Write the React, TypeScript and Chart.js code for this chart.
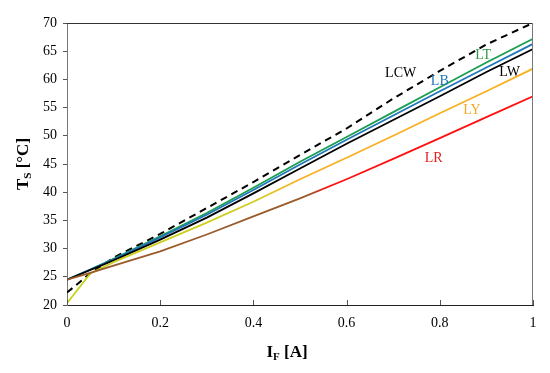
import React, { useEffect, useRef } from "react";
import { Chart, registerables } from "chart.js";

Chart.register(...registerables);

// Forward current I_F [A]
const currentA = [0, 0.05, 0.1, 0.2, 0.3, 0.4, 0.5, 0.6, 0.7, 0.8, 0.9, 1.0];
// Solder point temperature T_S [°C]
const tsLCW = [22.2, 25.6, 28.4, 32.6, 37.2, 41.8, 46.6, 51.3, 56.6, 61.5, 66.2, 70.0];
const tsLT = [24.5, 26.3, 28.2, 32.2, 36.3, 40.8, 45.4, 49.8, 54.2, 58.6, 63.0, 67.2];
const tsLB = [24.5, 26.3, 28.1, 32.0, 36.0, 40.4, 44.9, 49.3, 53.6, 57.9, 62.1, 66.3];
const tsLW = [24.5, 26.2, 27.9, 31.6, 35.5, 39.8, 44.2, 48.6, 52.8, 57.0, 61.3, 65.4];
const tsLY = [20.3, 25.6, 27.6, 31.1, 34.6, 38.3, 42.3, 46.1, 50.0, 54.0, 57.9, 61.9];
const tsLR = [24.5, 25.7, 27.0, 29.5, 32.5, 35.7, 38.9, 42.3, 45.9, 49.6, 53.3, 57.0];

const yTicks = [20, 25, 30, 35, 40, 45, 50, 55, 60, 65, 70];
const xTicks = [0, 0.2, 0.4, 0.6, 0.8, 1];

const curveLabels = [
  { text: "LCW", x: 0.716, y: 61.1, color: "#000000" },
  { text: "LB", x: 0.8, y: 59.6, color: "#1f77b8" },
  { text: "LT", x: 0.893, y: 64.3, color: "#2e9a48" },
  { text: "LW", x: 0.95, y: 61.3, color: "#000000" },
  { text: "LY", x: 0.869, y: 54.5, color: "#f0a828" },
  { text: "LR", x: 0.787, y: 46.0, color: "#e52020" },
];

const SERIF = "'Liberation Serif', 'Times New Roman', serif";

const pts = (ys: number[]) => currentA.map((x, i) => ({ x, y: ys[i] }));

function gradientColor(chart: any, stops: [number, string][], fallback: string) {
  const area = chart.chartArea;
  if (!area) return fallback;
  const xs = chart.scales.x;
  const g = chart.ctx.createLinearGradient(xs.getPixelForValue(0), 0, xs.getPixelForValue(1), 0);
  stops.forEach(([o, c]) => g.addColorStop(o, c));
  return g;
}

const decorPlugin = {
  id: "decor",
  afterDatasetsDraw(chart: any) {
    const { ctx, chartArea: a, scales } = chart;
    ctx.save();
    // frame
    ctx.lineWidth = 1;
    ctx.strokeStyle = "#333";
    ctx.beginPath();
    ctx.moveTo(a.left, a.top + 0.5);
    ctx.lineTo(a.right, a.top + 0.5);
    ctx.stroke();
    ctx.strokeStyle = "#777";
    ctx.beginPath();
    ctx.moveTo(a.right - 0.5, a.top);
    ctx.lineTo(a.right - 0.5, a.bottom);
    ctx.stroke();
    // inside x ticks
    ctx.strokeStyle = "#555";
    xTicks.forEach((v) => {
      const px = Math.round(scales.x.getPixelForValue(v)) + 0.5;
      ctx.beginPath();
      ctx.moveTo(px, a.bottom);
      ctx.lineTo(px, a.bottom - 5);
      ctx.stroke();
    });
    // curve labels
    ctx.font = `14px ${SERIF}`;
    ctx.textAlign = "center";
    ctx.textBaseline = "middle";
    curveLabels.forEach((l) => {
      ctx.fillStyle = l.color;
      ctx.fillText(l.text, scales.x.getPixelForValue(l.x), scales.y.getPixelForValue(l.y));
    });
    // axis titles with subscripts
    const drawTitle = (main: string, sub: string, rest: string) => {
      ctx.fillStyle = "#000";
      ctx.textAlign = "left";
      ctx.textBaseline = "alphabetic";
      ctx.font = `bold 17px ${SERIF}`;
      const w1 = ctx.measureText(main).width;
      const w3 = ctx.measureText(rest).width;
      ctx.font = `bold 11px ${SERIF}`;
      const w2 = ctx.measureText(sub).width;
      let x = -(w1 + w2 + w3) / 2;
      ctx.font = `bold 17px ${SERIF}`;
      ctx.fillText(main, x, 6);
      x += w1;
      ctx.font = `bold 11px ${SERIF}`;
      ctx.fillText(sub, x, 9);
      x += w2;
      ctx.font = `bold 17px ${SERIF}`;
      ctx.fillText(rest, x, 6);
    };
    ctx.save();
    ctx.translate(287, 351);
    drawTitle("I", "F", " [A]");
    ctx.restore();
    ctx.save();
    ctx.translate(22, (a.top + a.bottom) / 2);
    ctx.rotate(-Math.PI / 2);
    drawTitle("T", "S", " [°C]");
    ctx.restore();
    ctx.restore();
  },
};

export default function App() {
  const ref = useRef<HTMLCanvasElement | null>(null);

  useEffect(() => {
    document.body.style.margin = "0";
    const canvas = ref.current!;
    const lineBase = { pointRadius: 0, borderWidth: 1.8, tension: 0, fill: false };
    const chart = new Chart(canvas, {
      type: "line",
      data: {
        datasets: [
          { ...lineBase, label: "LR", data: pts(tsLR),
            borderColor: (c: any) => gradientColor(c.chart, [[0, "#9a5a2a"], [0.52, "#9a5a2a"], [0.56, "#ff1010"], [1, "#ff1010"]], "#ff1010") },
          { ...lineBase, label: "LY", data: pts(tsLY),
            borderColor: (c: any) => gradientColor(c.chart, [[0, "#c8d21c"], [0.4, "#d2cc20"], [0.5, "#f7b020"], [1, "#f7b020"]], "#f7b020") },
          { ...lineBase, label: "LW", data: pts(tsLW), borderColor: "#000000" },
          { ...lineBase, label: "LB", data: pts(tsLB), borderColor: "#1f78bc" },
          { ...lineBase, label: "LT", data: pts(tsLT), borderColor: "#1a9e50" },
          { ...lineBase, label: "LCW", data: pts(tsLCW), borderColor: "#000000", borderWidth: 2, borderDash: [7, 5] },
        ],
      },
      options: {
        animation: false,
        responsive: false,
        maintainAspectRatio: false,
        layout: { padding: { left: 0, right: 17, top: 23, bottom: 0 } },
        plugins: { legend: { display: false }, tooltip: { enabled: false } },
        scales: {
          x: {
            type: "linear",
            min: 0,
            max: 1,
            afterBuildTicks: (s: any) => { s.ticks = xTicks.map((v) => ({ value: v })); },
            afterFit: (s: any) => { s.height = 68; },
            grid: { display: false, drawTicks: false },
            border: { display: true, color: "#222", width: 1 },
            ticks: {
              padding: 10,
              color: "#000",
              font: { family: SERIF, size: 14 },
              callback: (v: any) => String(Math.round(v * 10) / 10),
              maxRotation: 0,
            },
          },
          y: {
            type: "linear",
            min: 20,
            max: 70,
            afterBuildTicks: (s: any) => { s.ticks = yTicks.map((v) => ({ value: v })); },
            afterFit: (s: any) => { s.width = 67; },
            grid: { drawOnChartArea: false, drawTicks: true, tickLength: 4, color: "#555" },
            border: { display: true, color: "#777", width: 1 },
            ticks: {
              padding: 6,
              color: "#000",
              font: { family: SERIF, size: 14 },
            },
          },
        },
      },
      plugins: [decorPlugin],
    } as any);
    return () => chart.destroy();
  }, []);

  return (
    <div style={{ position: "fixed", left: 0, top: 0, width: 550, height: 373, background: "#fff" }}>
      <canvas ref={ref} width={550} height={373} style={{ width: 550, height: 373 }} />
    </div>
  );
}
